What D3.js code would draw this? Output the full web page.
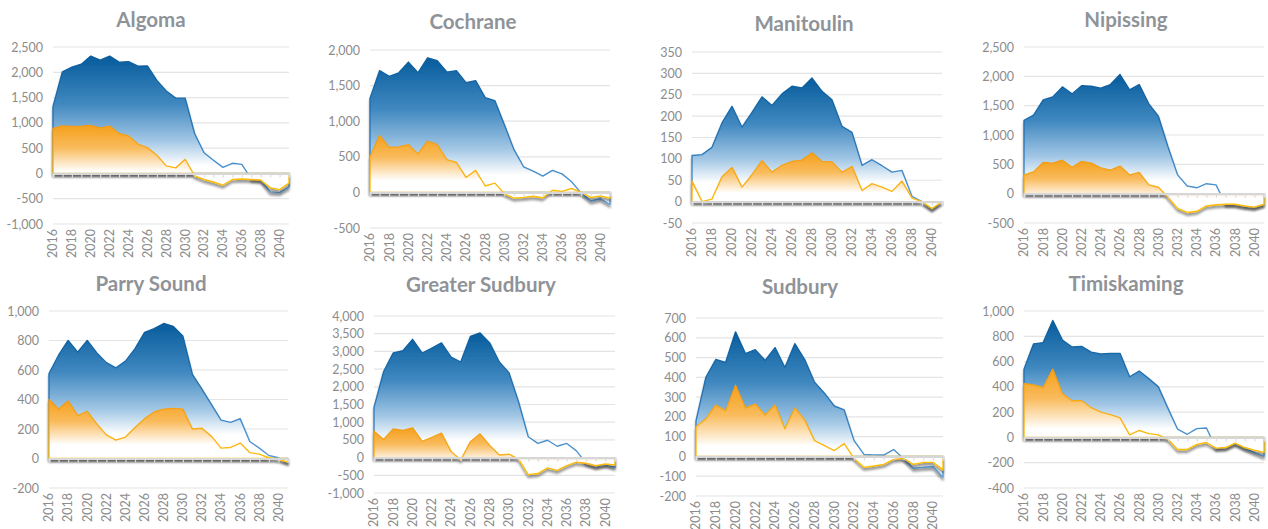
<!DOCTYPE html>
<html>
<head>
<meta charset="utf-8">
<script src="https://cdn.jsdelivr.net/npm/d3@7"></script>
<style>
  body { margin: 0; background: #fff; }
  svg { display: block; }
  text { font-family: Lato, "Open Sans", sans-serif; }
</style>
</head>
<body>
<svg id="chart"></svg>
<script>
// data, 2016-2041
const years = [2016, 2017, 2018, 2019, 2020, 2021, 2022, 2023, 2024, 2025, 2026, 2027, 2028,
               2029, 2030, 2031, 2032, 2033, 2034, 2035, 2036, 2037, 2038, 2039, 2040, 2041];
const yearLabels = ['2016', '2018', '2020', '2022', '2024', '2026', '2028', '2030', '2032', '2034', '2036', '2038', '2040'];

const regions = ['Algoma', 'Cochrane', 'Manitoulin', 'Nipissing', 'Parry Sound', 'Greater Sudbury', 'Sudbury', 'Timiskaming'];

const algomaBlue   = [1320, 2010, 2100, 2160, 2320, 2240, 2320, 2200, 2210, 2120, 2125, 1840, 1630, 1490, 1490, 790, 410, 260, 120, 200, 180, -110, -125, -365, -380, -270];
const algomaOrange = [890, 940, 930, 935, 950, 900, 935, 790, 740, 580, 510, 360, 150, 110, 280, -50, -120, -170, -230, -120, -110, -120, -130, -280, -320, -190];

const cochraneBlue   = [1320, 1710, 1630, 1680, 1830, 1680, 1890, 1850, 1690, 1710, 1540, 1570, 1330, 1290, 950, 600, 360, 300, 230, 310, 260, 150, -10, -120, -90, -170];
const cochraneOrange = [500, 800, 630, 640, 670, 540, 720, 670, 460, 420, 210, 310, 90, 130, -20, -80, -70, -55, -75, 30, 15, 55, 0, -70, -50, -80];

const manitoulinBlue   = [108, 110, 127, 184, 223, 174, 209, 245, 225, 252, 270, 266, 289, 258, 238, 176, 162, 85, 98, 84, 69, 73, 12, 0, -17, 0];
const manitoulinOrange = [48, 0, 6, 58, 80, 34, 63, 96, 69, 85, 94, 97, 114, 94, 93, 69, 82, 26, 42, 34, 24, 48, 8, 0, -16, 0];

const nipissingBlue   = [1250, 1340, 1600, 1650, 1820, 1700, 1840, 1830, 1800, 1860, 2030, 1770, 1860, 1530, 1320, 800, 320, 130, 100, 170, 150, -180, -180, -210, -230, -180];
const nipissingOrange = [320, 370, 530, 520, 570, 450, 550, 520, 440, 400, 470, 320, 360, 150, 110, -60, -250, -320, -300, -210, -190, -180, -180, -210, -230, -180];

const parrySoundBlue   = [575, 700, 800, 720, 800, 715, 650, 615, 660, 745, 855, 880, 915, 895, 830, 570, 470, 365, 260, 245, 270, 115, 70, 20, 5, -25];
const parrySoundOrange = [400, 335, 390, 290, 320, 235, 160, 125, 145, 210, 270, 315, 335, 340, 335, 200, 205, 150, 70, 75, 105, 40, 30, 5, -5, -25];

const greaterSudburyBlue   = [1420, 2430, 2960, 3020, 3340, 2950, 3090, 3240, 2840, 2700, 3420, 3520, 3240, 2700, 2400, 1570, 590, 400, 490, 320, 400, 190, -160, -250, -200, -275];
const greaterSudburyOrange = [740, 510, 810, 770, 840, 460, 570, 690, 170, -70, 450, 670, 340, 75, 95, -40, -480, -450, -290, -360, -225, -130, -160, -230, -180, -210];

const sudburyBlue   = [180, 400, 490, 475, 630, 520, 540, 485, 550, 450, 570, 490, 375, 320, 255, 235, 80, 10, 8, 7, 35, -10, -60, -55, -52, -105];
const sudburyOrange = [150, 190, 260, 230, 360, 245, 265, 210, 260, 140, 245, 185, 80, 55, 30, 65, -10, -55, -48, -40, -15, -10, -40, -30, -30, -68];

const timiskamingBlue   = [540, 740, 750, 925, 770, 715, 720, 675, 660, 665, 665, 480, 525, 465, 400, 230, 65, 25, 70, 75, -85, -80, -45, -85, -120, -150];
const timiskamingOrange = [425, 415, 395, 540, 345, 290, 290, 235, 200, 180, 155, 20, 55, 30, 20, -15, -95, -95, -55, -40, -85, -80, -45, -80, -100, -118];

const blueSeries   = [algomaBlue, cochraneBlue, manitoulinBlue, nipissingBlue, parrySoundBlue, greaterSudburyBlue, sudburyBlue, timiskamingBlue];
const orangeSeries = [algomaOrange, cochraneOrange, manitoulinOrange, nipissingOrange, parrySoundOrange, greaterSudburyOrange, sudburyOrange, timiskamingOrange];

// value axes: min, max, step
const axisMin  = [-1000, -500, -50, -500, -200, -1000, -200, -400];
const axisMax  = [2500, 2000, 350, 2500, 1000, 4000, 700, 1000];
const axisStep = [500, 500, 50, 500, 200, 500, 100, 200];

// where each small chart sits on the page
const layout = [
  {x0: 53,   x1: 289,  yt: 47,  yb: 224, tx: 151,  ty: 27},
  {x0: 370,  x1: 610,  yt: 50,  yb: 228, tx: 473,  ty: 29},
  {x0: 692,  x1: 942,  yt: 52,  yb: 223, tx: 804,  ty: 31},
  {x0: 1024, x1: 1264, yt: 47,  yb: 223, tx: 1126, ty: 27},
  {x0: 49,   x1: 288,  yt: 311, yb: 488, tx: 151,  ty: 291},
  {x0: 374,  x1: 615,  yt: 316, yb: 493, tx: 481,  ty: 292},
  {x0: 696,  x1: 943,  yt: 318, yb: 496, tx: 800,  ty: 294},
  {x0: 1024, x1: 1264, yt: 311, yb: 488, tx: 1126, ty: 291}
];

const w = 1268;
const h = 529;

const fmt = d3.formatLocale({decimal: '.', thousands: ',', grouping: [3], currency: ['', ''], minus: '-'}).format(',');

const svg = d3.select('#chart').attr('width', w).attr('height', h);
const defs = svg.append('defs');

function gradient(id, stops) {
  const g = defs.append('linearGradient').attr('id', id)
    .attr('x1', 0).attr('y1', 0).attr('x2', 0).attr('y2', 1);
  stops.forEach(s => g.append('stop').attr('offset', s[0]).attr('stop-color', s[1]));
}
gradient('blueFill', [[0, '#075c9c'], [0.35, '#4088c0'], [0.62, '#a2c7e5'], [0.8, '#ffffff'], [1, '#ffffff']]);
gradient('blueLine', [[0, '#0a5c9c'], [0.5, '#2a77b8'], [1, '#5d9fd8']]);
gradient('orangeFill', [[0, '#f5a01c'], [0.35, '#f9bb5c'], [0.72, '#ffffff'], [1, '#ffffff']]);
gradient('orangeLine', [[0, '#f29b16'], [0.6, '#f9b21a'], [1, '#ffc000']]);

const shadow = defs.append('filter').attr('id', 'shadow')
  .attr('x', '-5%').attr('y', '-5%').attr('width', '110%').attr('height', '120%');
shadow.append('feDropShadow').attr('dx', 0).attr('dy', 3).attr('stdDeviation', 1.2)
  .attr('flood-color', '#000').attr('flood-opacity', 0.38);

regions.forEach((name, i) => {
  const L = layout[i];
  const g = svg.append('g');

  const xScale = d3.scaleLinear().domain([years[0], years[years.length - 1]]).range([L.x0, L.x1]);
  const yScale = d3.scaleLinear().domain([axisMin[i], axisMax[i]]).range([L.yb, L.yt]);
  const yTicks = d3.range(axisMin[i], axisMax[i] + axisStep[i] / 2, axisStep[i]);

  // gridlines
  g.selectAll('.grid')
    .data(yTicks.filter(t => t !== 0))
    .enter()
    .append('line')
    .attr('x1', L.x0).attr('x2', L.x1)
    .attr('y1', d => yScale(d)).attr('y2', d => yScale(d))
    .attr('stroke', '#e4e4e4')
    .attr('stroke-width', 1.2);

  // value labels
  const yAxis = d3.axisLeft(yScale).tickValues(yTicks).tickFormat(fmt).tickSize(0).tickPadding(10);
  g.append('g')
    .attr('transform', 'translate(' + L.x0 + ',0)')
    .call(yAxis)
    .call(a => a.select('.domain').remove())
    .selectAll('text')
    .attr('fill', '#8c8c8c')
    .attr('font-size', 12.5)
    .attr('font-family', 'Lato, sans-serif');

  const area = d3.area()
    .x((d, k) => xScale(years[k]))
    .y0(yScale(0))
    .y1(d => yScale(d));

  g.append('path')
    .datum(blueSeries[i])
    .attr('d', area)
    .attr('fill', 'url(#blueFill)')
    .attr('stroke', 'url(#blueLine)')
    .attr('stroke-width', 1.4)
    .attr('stroke-linejoin', 'round')
    .attr('filter', 'url(#shadow)');

  g.append('path')
    .datum(orangeSeries[i])
    .attr('d', area)
    .attr('fill', 'url(#orangeFill)')
    .attr('stroke', 'url(#orangeLine)')
    .attr('stroke-width', 1.4)
    .attr('stroke-linejoin', 'round')
    .attr('filter', 'url(#shadow)');

  // zero axis with year ticks
  const xAxis = d3.axisBottom(xScale).tickValues(years).tickSize(4).tickFormat('');
  const ax = g.append('g')
    .attr('transform', 'translate(0,' + yScale(0) + ')')
    .call(xAxis);
  ax.select('.domain').attr('stroke', '#d6d6d6').attr('stroke-width', 2.2);
  ax.selectAll('.tick line').attr('stroke', '#dcdcdc').attr('stroke-width', 1.2);

  // year labels under the plot
  g.selectAll('.year')
    .data(yearLabels)
    .enter()
    .append('text')
    .attr('transform', d => 'translate(' + xScale(+d) + ',' + (L.yb + 5) + ') rotate(-90)')
    .attr('text-anchor', 'end')
    .attr('dy', '0.35em')
    .attr('fill', '#8c8c8c')
    .attr('font-size', 12.5)
    .text(d => d);

  g.append('text')
    .attr('x', L.tx)
    .attr('y', L.ty)
    .attr('text-anchor', 'middle')
    .attr('fill', '#8f9398')
    .attr('font-size', 20.5)
    .attr('font-weight', 'bold')
    .text(name);
});
</script>
</body>
</html>
